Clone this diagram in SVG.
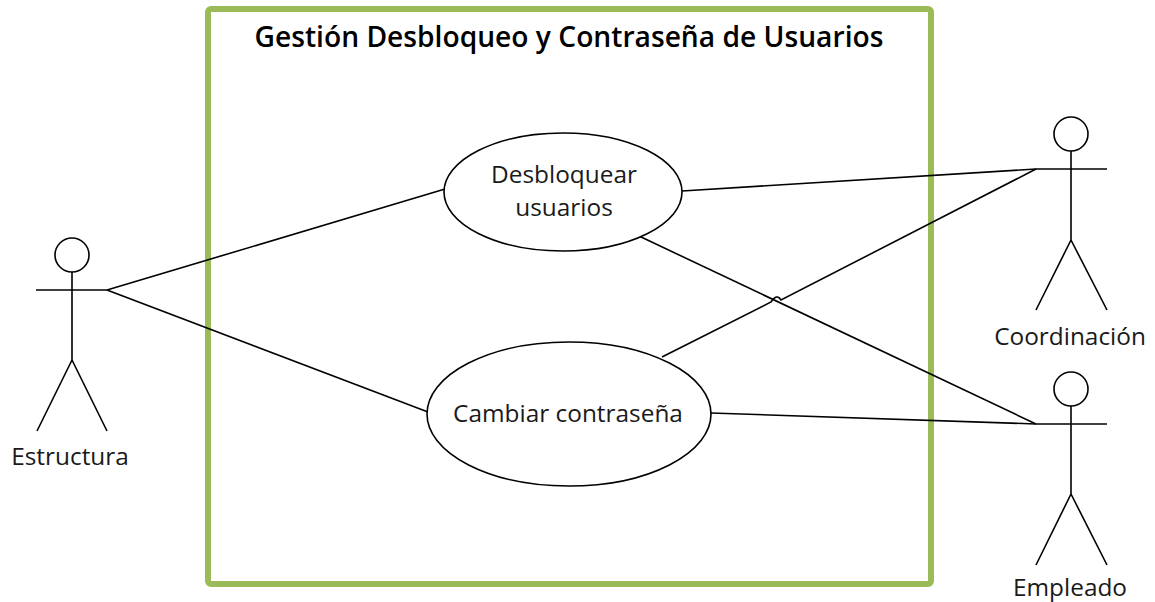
<svg xmlns="http://www.w3.org/2000/svg" width="1155" height="602" viewBox="0 0 1155 602">
<style>
.l{fill:none;stroke:#000;stroke-width:1.6}
.e{fill:#fff;stroke:#000;stroke-width:1.6}
text{font-family:"Open Sans","Noto Sans",sans-serif;font-size:24.4px;fill:#1a1a1a;text-anchor:middle}
.t{font-size:28.2px;font-weight:600;fill:#000}
</style>
<rect width="1155" height="602" fill="#fff"/>
<g id="system"><rect x="208" y="9" width="723" height="575" rx="3" fill="none" stroke="#9bbb59" stroke-width="6"/>
<text class="t" x="569" y="47">Gestión Desbloqueo y Contraseña de Usuarios</text></g>
<g id="connectors">
<path class="l" d="M107 290L445 189"/>
<path class="l" d="M107 290L428 412"/>
<path class="l" d="M682 191L1036 169"/>
<path class="l" d="M662 357L771 302Q777 293 781 300L1036 169"/>
<path class="l" d="M639 236L1036 424"/>
<path class="l" d="M711 413L1036 424"/>
</g>
<g id="uc1"><ellipse class="e" cx="563" cy="192" rx="119" ry="59"/><text x="564" y="183">Desbloquear</text><text x="564" y="216">usuarios</text></g>
<g id="uc2"><ellipse class="e" cx="569" cy="414" rx="142" ry="72"/><text x="568" y="422">Cambiar contraseña</text></g>
<g id="a1"><circle class="e" cx="72" cy="255" r="17"/><path class="l" d="M72 272V360M36 290H107M72 360L37 431M72 360L107 431"/><text x="70" y="465">Estructura</text></g>
<g id="a2"><circle class="e" cx="1071" cy="134" r="17"/><path class="l" d="M1071 151V240M1036 169H1107M1071 240L1036 310M1071 240L1107 310"/><text x="1070" y="345">Coordinación</text></g>
<g id="a3"><circle class="e" cx="1071" cy="389" r="17"/><path class="l" d="M1071 406V494M1036 424H1107M1071 494L1036 565M1071 494L1107 565"/><text x="1070" y="596">Empleado</text></g>
</svg>
